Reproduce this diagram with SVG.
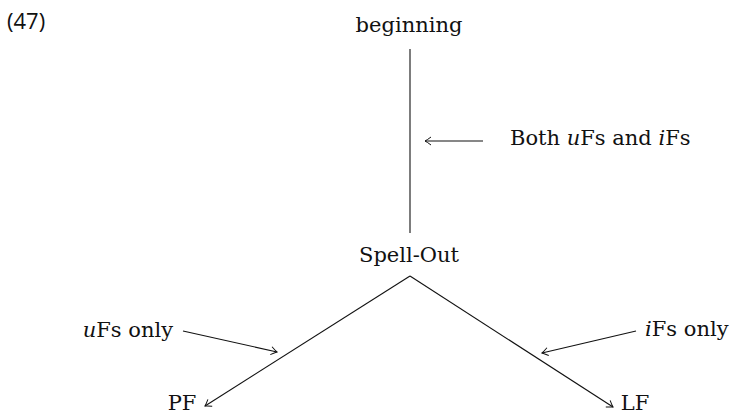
<svg xmlns="http://www.w3.org/2000/svg" width="730" height="416" viewBox="0 0 730 416">
<style>
text{font-family:"DejaVu Serif","Liberation Serif",serif;font-size:21px;fill:#111}
.num{font-family:"Open Sans","Noto Sans",sans-serif;font-size:22px}
.ln{stroke:#111;stroke-width:1.1;fill:none}
.ar{marker-end:url(#hd)}
</style>
<defs>
<marker id="hd" viewBox="-8 -5 10 10" markerWidth="10" markerHeight="10" refX="0" refY="0" orient="auto" markerUnits="userSpaceOnUse">
<path d="M-6,-4 Q-2,-1 0,0 Q-2,1 -6,4" fill="none" stroke="#111" stroke-width="1"/>
</marker>
</defs>
<rect width="730" height="416" fill="#fff"/>
<text class="num" x="7" y="29">(47)</text>
<g id="beginning"><text x="409" y="32" text-anchor="middle">beginning</text></g>
<g id="spellout"><text x="409" y="262" text-anchor="middle">Spell-Out</text></g>
<g id="pf"><text x="182" y="410" text-anchor="middle">PF</text></g>
<g id="lf"><text x="635" y="410" text-anchor="middle">LF</text></g>
<g id="both"><text x="510" y="145">Both <tspan font-style="italic">u</tspan>Fs and <tspan font-style="italic">i</tspan>Fs</text></g>
<g id="uonly"><text x="173" y="337" text-anchor="end"><tspan font-style="italic">u</tspan>Fs only</text></g>
<g id="ionly"><text x="645" y="336"><tspan font-style="italic">i</tspan>Fs only</text></g>
<g id="connectors">
<line class="ln" x1="410" y1="49" x2="410" y2="233"/>
<line class="ln ar" x1="410" y1="276" x2="205" y2="406"/>
<line class="ln ar" x1="410" y1="276" x2="613" y2="407"/>
<line class="ln ar" x1="483" y1="141" x2="425" y2="141"/>
<line class="ln ar" x1="183" y1="331" x2="277" y2="352"/>
<line class="ln ar" x1="636" y1="331" x2="542" y2="353"/>
</g>
</svg>
